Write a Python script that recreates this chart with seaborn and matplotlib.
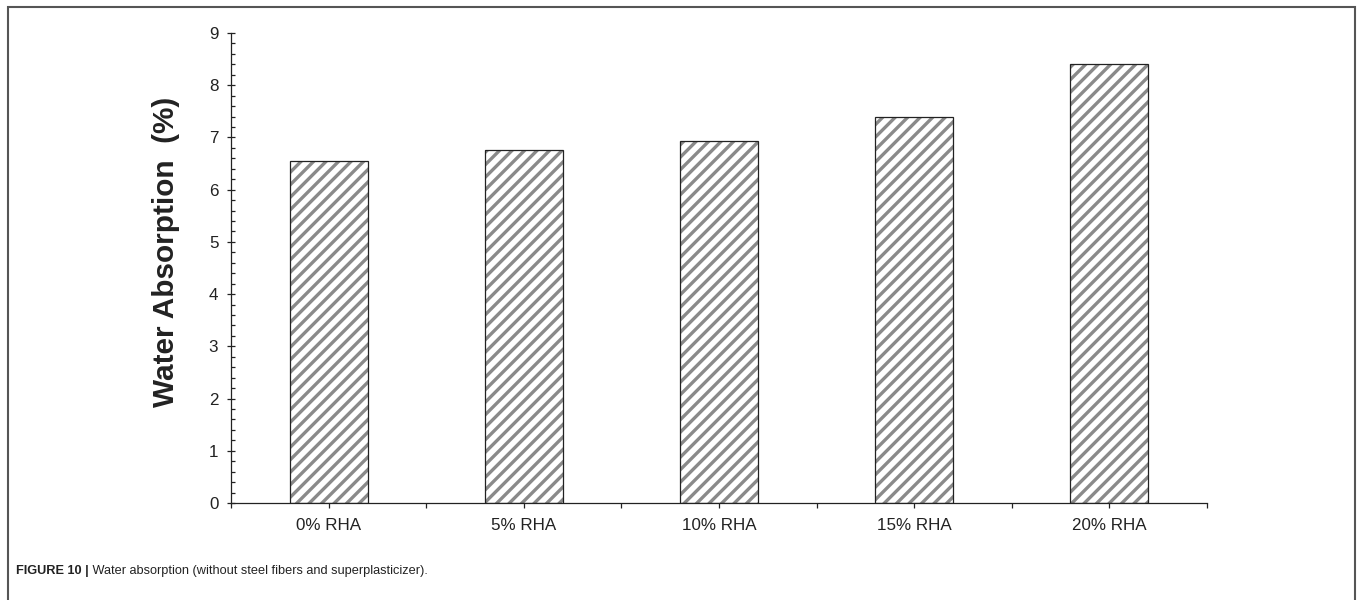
import numpy as np
import pandas as pd
import matplotlib
matplotlib.use("Agg")
import matplotlib.pyplot as plt
from matplotlib.ticker import MultipleLocator
from matplotlib.patches import Rectangle
import seaborn as sns

categories = ["0% RHA", "5% RHA", "10% RHA", "15% RHA", "20% RHA"]
values = [6.55, 6.76, 6.93, 7.39, 8.40]
y_ticks = [0, 1, 2, 3, 4, 5, 6, 7, 8, 9]
y_label = "Water Absorption  (%)"
caption_bold = "FIGURE 10 |"
caption_rest = "Water absorption (without steel fibers and superplasticizer)."

DPI = 150
W, H = 1360, 600

sns.set_theme(style="white")
plt.rcParams["font.family"] = ["Liberation Sans", "DejaVu Sans"]
plt.rcParams["hatch.linewidth"] = 1.6

df = pd.DataFrame({"cat": categories, "val": values})

fig = plt.figure(figsize=(W / DPI, H / DPI), dpi=DPI)
ax = fig.add_axes([231 / W, 1 - 503 / H, (1207 - 231) / W, (503 - 33) / H])

sns.barplot(data=df, x="cat", y="val", order=categories, width=0.4,
            color="white", edgecolor="#8a8a8a", hatch="////", linewidth=0,
            saturation=1, ax=ax)
sns.barplot(data=df, x="cat", y="val", order=categories, width=0.4,
            fill=False, edgecolor="#222222", linewidth=0.6,
            saturation=1, ax=ax)

ax.set_xlim(-0.5, len(categories) - 0.5)
ax.set_ylim(0, 9)
ax.set_yticks(y_ticks)
ax.yaxis.set_minor_locator(MultipleLocator(0.2))
ax.set_xticks(np.arange(len(categories)))
ax.set_xticklabels(categories)
ax.set_xticks(np.arange(-0.5, len(categories)), minor=True)

for s in ["top", "right"]:
    ax.spines[s].set_visible(False)
for s in ["left", "bottom"]:
    ax.spines[s].set_color("#222222")
    ax.spines[s].set_linewidth(0.6)

ax.tick_params(axis="x", which="both", direction="out", length=2.2, width=0.6,
               color="#222222", labelsize=8.2, pad=5, labelcolor="#222222")
ax.tick_params(axis="y", which="major", direction="inout", length=4.2, width=0.6,
               color="#222222", labelsize=8.2, pad=4, labelcolor="#222222", left=True)
ax.tick_params(axis="y", which="minor", direction="in", length=2.0, width=0.6,
               color="#222222", left=True)
ax.tick_params(axis="x", which="minor", bottom=True)
ax.tick_params(axis="x", which="major", bottom=True)

ax.set_xlabel("")
ax.set_ylabel(y_label, fontsize=14.3, fontweight="bold", color="#222222")
ax.yaxis.set_label_coords((180 - 231) / (1207 - 231), (503 - 252) / (503 - 33))

# figure frame
fig.add_artist(Rectangle((8 / W, -0.05), (1355 - 8) / W, 1.05 - 7 / H,
                         transform=fig.transFigure, fill=False,
                         edgecolor="#555555", linewidth=1.0, clip_on=False))

cap_font = ["Liberation Sans", "DejaVu Sans"]
t1 = fig.text(16 / W, 1 - 571 / H, caption_bold, fontsize=6.1, fontweight="bold",
              family=cap_font, va="center", ha="left", color="#222222")
ax.annotate(" " + caption_rest, xy=(1, 0.5), xycoords=t1, va="center", ha="left",
            fontsize=6.1, family=cap_font, color="#222222", annotation_clip=False)

fig.savefig("out.png", dpi=DPI)
